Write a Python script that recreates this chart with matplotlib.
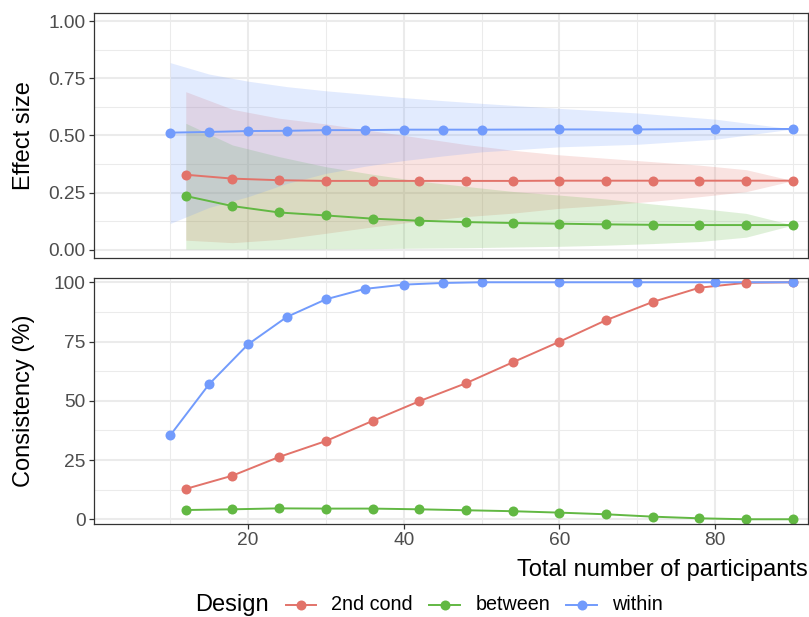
import matplotlib
matplotlib.use("Agg")
import matplotlib.pyplot as plt
from matplotlib.lines import Line2D
import numpy as np

plt.rcParams['font.family'] = ['Liberation Sans', 'DejaVu Sans']

# ---------------- data ----------------
designs = ["2nd cond", "between", "within"]
colors = {"2nd cond": "#E2736A", "between": "#62B843", "within": "#729BFC"}

n_within = [10, 15, 20, 25, 30, 35, 40, 45, 50, 60, 70, 80, 90]
n_other = [12, 18, 24, 30, 36, 42, 48, 54, 60, 66, 72, 78, 84, 90]

es_within = [0.512, 0.515, 0.519, 0.520, 0.523, 0.523, 0.525, 0.525, 0.525, 0.526, 0.526, 0.528, 0.528]
es_within_lo = [0.115, 0.185, 0.232, 0.290, 0.334, 0.365, 0.390, 0.410, 0.428, 0.450, 0.461, 0.483, 0.528]
es_within_hi = [0.818, 0.768, 0.737, 0.713, 0.695, 0.680, 0.665, 0.652, 0.640, 0.618, 0.598, 0.571, 0.528]

es_2nd = [0.328, 0.311, 0.304, 0.301, 0.301, 0.301, 0.301, 0.301, 0.302, 0.302, 0.302, 0.302, 0.302, 0.302]
es_2nd_lo = [0.042, 0.031, 0.045, 0.072, 0.100, 0.125, 0.145, 0.160, 0.181, 0.195, 0.212, 0.232, 0.254, 0.302]
es_2nd_hi = [0.691, 0.614, 0.575, 0.550, 0.520, 0.490, 0.460, 0.435, 0.415, 0.400, 0.385, 0.370, 0.350, 0.302]

es_between = [0.235, 0.191, 0.163, 0.150, 0.136, 0.127, 0.121, 0.117, 0.114, 0.111, 0.109, 0.108, 0.108, 0.108]
es_between_lo = [0.003, 0.003, 0.003, 0.004, 0.005, 0.007, 0.009, 0.012, 0.015, 0.020, 0.027, 0.036, 0.055, 0.108]
es_between_hi = [0.553, 0.458, 0.407, 0.363, 0.330, 0.300, 0.277, 0.255, 0.239, 0.222, 0.200, 0.181, 0.159, 0.108]

cons_within = [35.4, 57.0, 73.8, 85.4, 92.8, 97.2, 99.0, 99.7, 100, 100, 100, 100, 100]
cons_2nd = [12.8, 18.4, 26.3, 33.0, 41.5, 49.8, 57.4, 66.2, 74.9, 84.0, 91.7, 97.7, 99.8, 100]
cons_between = [3.9, 4.2, 4.6, 4.5, 4.5, 4.2, 3.8, 3.4, 2.8, 2.1, 1.1, 0.4, 0.0, 0.0]

x_major = [20, 40, 60, 80]
x_minor = [10, 30, 50, 70, 90]
es_ticks = [0.0, 0.25, 0.5, 0.75, 1.0]
es_ticklabels = ["0.00", "0.25", "0.50", "0.75", "1.00"]
cons_ticks = [0, 25, 50, 75, 100]

es = {
    "2nd cond": (n_other, es_2nd, es_2nd_lo, es_2nd_hi),
    "between": (n_other, es_between, es_between_lo, es_between_hi),
    "within": (n_within, es_within, es_within_lo, es_within_hi),
}
cons = {
    "2nd cond": (n_other, cons_2nd),
    "between": (n_other, cons_between),
    "within": (n_within, cons_within),
}

# ---------------- figure ----------------
W, H = 809, 617
fig = plt.figure(figsize=(W / 100, H / 100), dpi=100)

def ax_rect(l, t, r, b):
    return [l / W, 1 - b / H, (r - l) / W, (b - t) / H]

ax1 = fig.add_axes(ax_rect(94, 13, 808, 258))
ax2 = fig.add_axes(ax_rect(94, 278, 808, 524))

xlim = (0.21, 91.95)
lw_line = 1.4
ms = 7.2

def style(ax, yticks, yminor):
    ax.set_xlim(*xlim)
    for xv in x_minor:
        ax.axvline(xv, color="#EBEBEB", lw=0.75, zorder=0)
    for xv in x_major:
        ax.axvline(xv, color="#EBEBEB", lw=1.5, zorder=0)
    for yv in yminor:
        ax.axhline(yv, color="#EBEBEB", lw=0.75, zorder=0)
    for yv in yticks:
        ax.axhline(yv, color="#EBEBEB", lw=1.5, zorder=0)
    for s in ax.spines.values():
        s.set_color("#333333")
        s.set_linewidth(0.9)
        s.set_zorder(10)
    ax.set_yticks(yticks)
    ax.tick_params(axis="both", colors="#333333", length=3.5, width=0.9,
                   labelcolor="#4D4D4D", labelsize=13.8, pad=2.5)

# top panel: effect size
for d in designs:
    x, y, lo, hi = es[d]
    ax1.fill_between(x, lo, hi, color=colors[d], alpha=0.2, lw=0, zorder=2)
for d in designs:
    x, y, lo, hi = es[d]
    ax1.plot(x, y, color=colors[d], lw=lw_line, zorder=3)
for d in designs:
    x, y, lo, hi = es[d]
    ax1.plot(x, y, "o", color=colors[d], ms=ms, zorder=4, mew=0)
ax1.set_ylim(-0.036, 1.035)
style(ax1, es_ticks, [0.125, 0.375, 0.625, 0.875])
ax1.set_yticklabels(es_ticklabels)
ax1.set_xticks([])

# bottom panel: consistency
for d in designs:
    x, y = cons[d]
    ax2.plot(x, y, color=colors[d], lw=lw_line, zorder=3)
for d in designs:
    x, y = cons[d]
    ax2.plot(x, y, "o", color=colors[d], ms=ms, zorder=4, mew=0)
ax2.set_ylim(-2.0, 101.8)
style(ax2, cons_ticks, [12.5, 37.5, 62.5, 87.5])
ax2.set_xticks(x_major)
ax2.set_xticklabels([str(v) for v in x_major])

# axis titles
fig.text(24 / W, 1 - 136 / H, "Effect size", rotation=90, ha="center", va="center",
         fontsize=17, color="black")
fig.text(24 / W, 1 - 401 / H, "Consistency (%)", rotation=90, ha="center", va="center",
         fontsize=17, color="black")
fig.text(808 / W, 1 - 570 / H, "Total number of participants", ha="right", va="center",
         fontsize=17, color="black")

# legend
ly = 1 - 605 / H
fig.text(195 / W, ly, "Design", ha="left", va="center", fontsize=17)
key_pos = [(286, 316, 331), (429, 460, 476), (566, 597, 612)]
for d, (k0, k1, tx) in zip(designs, key_pos):
    fig.add_artist(Line2D([k0 / W, k1 / W], [ly, ly], color=colors[d], lw=lw_line,
                          transform=fig.transFigure))
    fig.add_artist(Line2D([(k0 + k1) / 2 / W], [ly], marker="o", color=colors[d], ms=ms,
                          mew=0, transform=fig.transFigure))
    fig.text(tx / W, ly, d, ha="left", va="center", fontsize=14.2)

fig.savefig("out.png", dpi=100)
